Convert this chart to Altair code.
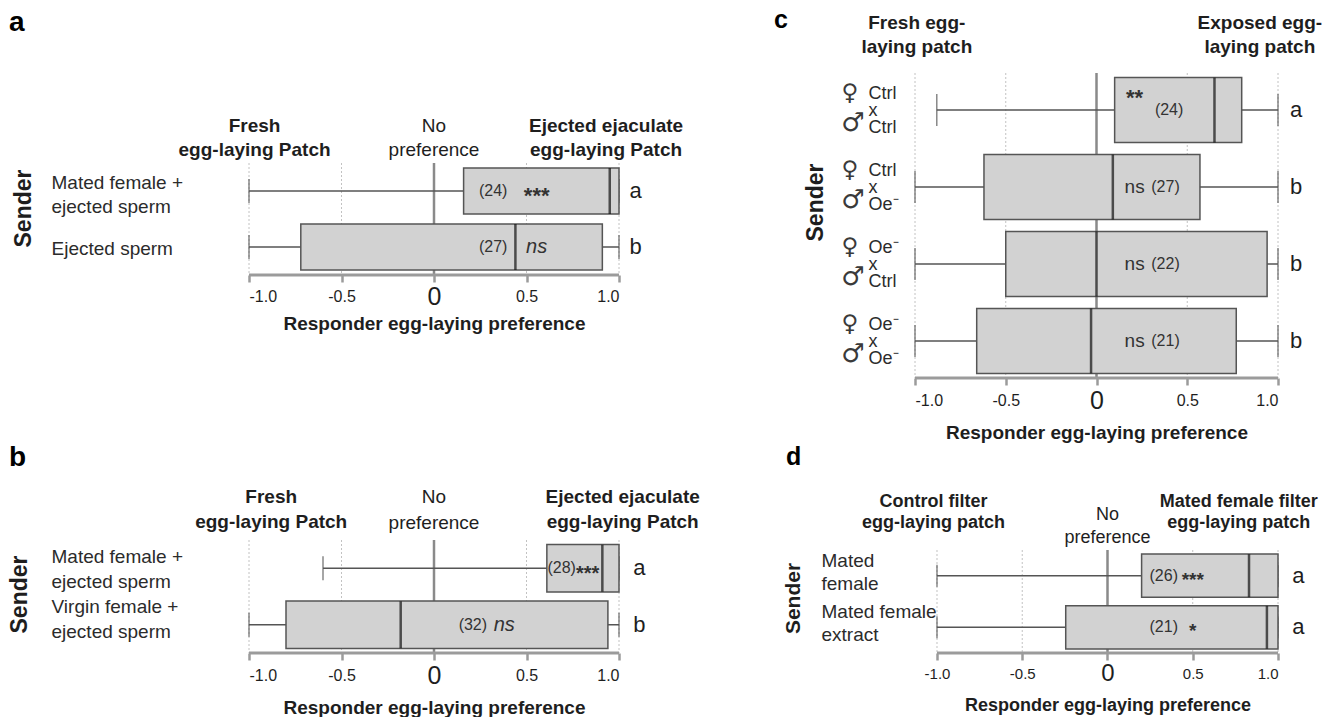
import altair as alt
import pandas as pd

FONT = "Liberation Sans"
INK = "#1e1e1e"
LABEL_INK = "#2b2b2b"
BOX_FILL = "#d2d2d2"
BOX_EDGE = "#555555"
AXIS_GREY = "#9b9b9b"
GRID_GREY = "#c2c2c2"
ZERO_GREY = "#8a8a8a"
X_TITLE = "Responder egg-laying preference"
TICKS = [-1.0, -0.5, 0.0, 0.5, 1.0]

# ---------------- data: panel a ----------------
a_sender = ["Mated female +|ejected sperm", "Ejected sperm"]
a_low = [-1.0, -1.0]
a_q1 = [0.16, -0.72]
a_median = [0.95, 0.44]
a_q3 = [1.0, 0.91]
a_high = [1.0, 1.0]
a_n = ["(24)", "(27)"]
a_sig = ["***", "ns"]
a_group = ["a", "b"]
a_head = ["Fresh|egg-laying Patch", "No|preference", "Ejected ejaculate|egg-laying Patch"]
a_head_bold = [True, False, True]

# ---------------- data: panel b ----------------
b_sender = ["Mated female +|ejected sperm", "Virgin female +|ejected sperm"]
b_low = [-0.60, -1.0]
b_q1 = [0.61, -0.80]
b_median = [0.91, -0.18]
b_q3 = [1.0, 0.94]
b_high = [1.0, 1.0]
b_n = ["(28)", "(32)"]
b_sig = ["***", "ns"]
b_group = ["a", "b"]
b_head = ["Fresh|egg-laying Patch", "No|preference", "Ejected ejaculate|egg-laying Patch"]
b_head_bold = [True, False, True]

# ---------------- data: panel c ----------------
c_female = ["Ctrl", "Ctrl", "Oe⁻", "Oe⁻"]
c_male = ["Ctrl", "Oe⁻", "Ctrl", "Oe⁻"]
c_sender = [f + "|x|" + m for f, m in zip(c_female, c_male)]
c_low = [-0.88, -1.0, -1.0, -1.0]
c_q1 = [0.10, -0.62, -0.50, -0.66]
c_median = [0.65, 0.09, 0.0, -0.03]
c_q3 = [0.80, 0.57, 0.94, 0.77]
c_high = [1.0, 1.0, 1.0, 1.0]
c_n = ["(24)", "(27)", "(22)", "(21)"]
c_sig = ["**", "ns", "ns", "ns"]
c_group = ["a", "b", "b", "b"]
c_head = ["Fresh egg-|laying patch", "Exposed egg-|laying patch"]
c_head_bold = [True, True]

# ---------------- data: panel d ----------------
d_sender = ["Mated|female", "Mated female|extract"]
d_low = [-1.0, -1.0]
d_q1 = [0.20, -0.245]
d_median = [0.83, 0.935]
d_q3 = [1.0, 1.0]
d_high = [1.0, 1.0]
d_n = ["(26)", "(21)"]
d_sig = ["***", "*"]
d_group = ["a", "a"]
d_head = ["Control filter|egg-laying patch", "No|preference", "Mated female filter|egg-laying patch"]
d_head_bold = [True, False, True]

# ---------------- layout (positions / sizes / styles) ----------------
# "top" is empty room kept at the top of a plot area so that panels side by side line up.
LA = dict(width=370, height=202, top=90, xdomain=[-1.0, 1.0], pi=0.18, po=0.09, bw=46, cap=24,
          tick_size=16, zero_size=25, label_pad=14, xt_size=19, xt_y=48, xt_x=185,
          ylab_pad=198, ylab_size=19, ylab_lh=24,
          ylab_off={"condition": {"test": "indexof(datum.label, '|') >= 0", "value": -8}, "value": 2},
          sender_size=23, sender_x=-226, sender_y=135,
          n_x=[0.32, 0.32], sig_x=[0.555, 0.555], group_x=1.09,
          head_x=[-0.97, 0.0, 0.93], head_y=53, head_y_normal=53, head_size=19,
          head_lh=24, head_lh_normal=24, star_size=22, star_dy=5, ns_size=20, ns_style="italic",
          letter="a", letter_size=28, letter_x=-240, letter_y=-42, symbols=False)
LB = dict(width=370, height=113, top=0, xdomain=[-1.0, 1.0], pi=0.16, po=0.08, bw=47, cap=24,
          tick_size=16, zero_size=25, label_pad=15, xt_size=19, xt_y=54, xt_x=185,
          ylab_pad=198, ylab_size=19, ylab_lh=25,
          ylab_off={"condition": {"test": "indexof(datum.label, 'Virgin') >= 0", "value": -18}, "value": -11},
          sender_size=23, sender_x=-230, sender_y=54,
          n_x=[0.69, 0.21], sig_x=[0.83, 0.38], group_x=1.11,
          head_x=[-0.88, 0.0, 1.02], head_y=-43, head_y_normal=-43, head_size=19,
          head_lh=25, head_lh_normal=26, star_size=20, star_dy=6, ns_size=20, ns_style="italic",
          letter="b", letter_size=28, letter_x=-240, letter_y=-74, symbols=False)
LC = dict(width=363, height=305, top=0, xdomain=[-1.0, 1.0], pi=0.155, po=0.06, bw=65, cap=32,
          tick_size=16, zero_size=25, label_pad=15, xt_size=19, xt_y=54, xt_x=181.5,
          ylab_pad=47, ylab_size=18, ylab_lh=17, ylab_off=-16,
          sender_size=23, sender_x=-100, sender_y=129,
          n_x=[0.40, 0.38, 0.38, 0.38], sig_x=[0.21, 0.21, 0.21, 0.21], group_x=1.10,
          head_x=[-0.99, 0.90], head_y=-50, head_y_normal=-50, head_size=19,
          head_lh=24, head_lh_normal=24, star_size=22, star_dy=-12, ns_size=19, ns_style="normal",
          letter="c", letter_size=25, letter_x=-141, letter_y=-45, symbols=True)
LD = dict(width=363, height=113, top=10, xdomain=[-1.129, 1.0], pi=0.16, po=0.076, bw=43, cap=22,
          tick_size=15, zero_size=24, label_pad=13, xt_size=18, xt_y=52, xt_x=192.5,
          ylab_pad=94, ylab_size=19, ylab_lh=23, ylab_off=-15,
          sender_size=21, sender_x=-122, sender_y=58,
          n_x=[0.33, 0.33], sig_x=[0.50, 0.50], group_x=1.12,
          head_x=[-1.02, 0.0, 0.77], head_y=-38, head_y_normal=-25, head_size=18,
          head_lh=21, head_lh_normal=23, star_size=19, star_dy=4, ns_size=19, ns_style="normal",
          letter="d", letter_size=25, letter_x=-129, letter_y=-75, symbols=False)


def build_panel(sender, low, q1, median, q3, high, n, sig, group, head, head_bold, L):
    df = pd.DataFrame({
        "sender": sender, "low": low, "q1": q1, "median": median, "q3": q3, "high": high,
        "n": n, "sig": sig, "group": group, "n_x": L["n_x"], "sig_x": L["sig_x"],
    })
    grid_df = pd.DataFrame({"tick": [t for t in TICKS if t != 0]})
    W, H, TOP = L["width"], L["height"], L["top"]
    xscale = alt.Scale(domain=L["xdomain"], nice=False, zero=False)
    xaxis = alt.Axis(
        values=TICKS,
        labelExpr="datum.value == 0 ? '0' : (datum.value < 0 ? '-' : '') + format(abs(datum.value), '.1f')",
        labelFontSize={"condition": {"test": "datum.value == 0", "value": L["zero_size"]},
                       "value": L["tick_size"]},
        labelBaseline="middle", labelPadding=L["label_pad"], labelColor=INK, labelFont=FONT,
        ticks=True, tickSize=7, tickWidth=2.5, tickColor=AXIS_GREY,
        domain=False, grid=False,
        title=X_TITLE, titleFontSize=L["xt_size"], titleFontWeight="bold", titleColor=INK,
        titleFont=FONT, titleBaseline="middle", titleAlign="center",
        titleY=L["xt_y"], titleX=L["xt_x"],
    )
    yaxis = alt.Axis(
        labelExpr="split(datum.label, '|')", labelAlign="left", labelBaseline="middle",
        labelPadding=L["ylab_pad"], labelFontSize=L["ylab_size"], labelLineHeight=L["ylab_lh"],
        labelOffset=L["ylab_off"],
        labelColor=LABEL_INK, labelFont=FONT, labelLimit=400,
        ticks=False, domain=False, grid=False,
        title="Sender", titleFontSize=L["sender_size"], titleFontWeight="bold", titleColor=INK,
        titleFont=FONT, titleAngle=270, titleAlign="center", titleBaseline="middle",
        titleX=L["sender_x"], titleY=L["sender_y"],
    )
    yscale = alt.Scale(domain=sender, range=[TOP, H], paddingInner=L["pi"], paddingOuter=L["po"])

    def Y():
        return alt.Y("sender:N", scale=yscale, axis=yaxis, sort=sender, title="Sender")

    def X(field):
        return alt.X(field, type="quantitative", scale=xscale, axis=xaxis, title=X_TITLE)

    def XD(v):
        return alt.XDatum(v, type="quantitative", scale=xscale, axis=xaxis, title=X_TITLE)

    base = alt.Chart(df)
    one = alt.Data(values=[{}])
    layers = [
        alt.Chart(grid_df).mark_rule(color=GRID_GREY, strokeWidth=1, strokeDash=[2, 2]).encode(
            x=X("tick"), y=alt.value(TOP), y2=alt.value(H)),
        alt.Chart(one).mark_rule(color=ZERO_GREY, strokeWidth=2.5).encode(
            x=XD(0.0), y=alt.value(TOP), y2=alt.value(H)),
        base.mark_rule(color=BOX_EDGE, strokeWidth=1.5).encode(x=X("low"), x2=alt.X2("high"), y=Y()),
        base.mark_tick(color=BOX_EDGE, thickness=1.5, size=L["cap"]).encode(x=X("low"), y=Y()),
        base.mark_tick(color=BOX_EDGE, thickness=1.5, size=L["cap"]).encode(x=X("high"), y=Y()),
        base.mark_bar(fill=BOX_FILL, stroke=BOX_EDGE, strokeWidth=1.5, opacity=1).encode(
            x=X("q1"), x2=alt.X2("q3"), y=Y()),
        base.mark_tick(color="#111111", thickness=2.5, size=L["bw"]).encode(x=X("median"), y=Y()),
        base.mark_text(fontSize=16, color="#333333", baseline="middle").encode(
            x=X("n_x"), y=Y(), text="n:N"),
        base.transform_filter("indexof(datum.sig, '*') >= 0").mark_text(
            fontSize=L["star_size"], fontWeight="bold", color="#333333", baseline="middle",
            dy=L["star_dy"]).encode(x=X("sig_x"), y=Y(), text="sig:N"),
        base.transform_filter("datum.sig == 'ns'").mark_text(
            fontSize=L["ns_size"], fontStyle=L["ns_style"], color="#333333", baseline="middle").encode(
            x=X("sig_x"), y=Y(), text="sig:N"),
        base.mark_text(fontSize=22, color=INK, baseline="middle").encode(
            x=XD(L["group_x"]), y=Y(), text="group:N"),
        alt.Chart(one).mark_rule(color=AXIS_GREY, strokeWidth=3).encode(
            x=XD(-1.0), x2=alt.X2Datum(1.0), y=alt.value(H)),
    ]
    if L["symbols"]:
        layers.append(base.mark_text(text="♀", font="DejaVu Sans", fontSize=23, color="#3a3a3a",
                                     align="center", baseline="middle", dy=-17).encode(
            x=alt.value(-65), y=Y()))
        layers.append(base.mark_text(text="♂", font="DejaVu Sans", fontSize=26, color="#3a3a3a",
                                     align="center", baseline="middle", dy=13).encode(
            x=alt.value(-62), y=Y()))
    for txt, hx, bold in zip(head, L["head_x"], head_bold):
        layers.append(
            alt.Chart(one).mark_text(
                text=txt, lineBreak="|", fontSize=L["head_size"],
                fontWeight="bold" if bold else "normal",
                lineHeight=L["head_lh"] if bold else L["head_lh_normal"],
                align="center", baseline="middle", color=INK,
            ).encode(x=XD(hx), y=alt.value(L["head_y"] if bold else L["head_y_normal"]))
        )
    layers.append(
        alt.Chart(one).mark_text(
            text=L["letter"], fontSize=L["letter_size"], fontWeight="bold", align="left",
            baseline="alphabetic", color="#000000",
        ).encode(x=alt.value(L["letter_x"]), y=alt.value(L["letter_y"]))
    )
    return alt.layer(*layers).properties(width=W, height=H)


pa = build_panel(a_sender, a_low, a_q1, a_median, a_q3, a_high, a_n, a_sig, a_group, a_head, a_head_bold, LA)
pb = build_panel(b_sender, b_low, b_q1, b_median, b_q3, b_high, b_n, b_sig, b_group, b_head, b_head_bold, LB)
pc = build_panel(c_sender, c_low, c_q1, c_median, c_q3, c_high, c_n, c_sig, c_group, c_head, c_head_bold, LC)
pd_ = build_panel(d_sender, d_low, d_q1, d_median, d_q3, d_high, d_n, d_sig, d_group, d_head, d_head_bold, LD)

chart = (
    alt.concat(pa, pc, pb, pd_, columns=2, spacing={"row": 2, "column": 74})
    .properties(padding=0)
    .configure(font=FONT)
    .configure_view(stroke=None)
)

chart.save("out.html", embed_options={"renderer": "svg", "actions": False})
